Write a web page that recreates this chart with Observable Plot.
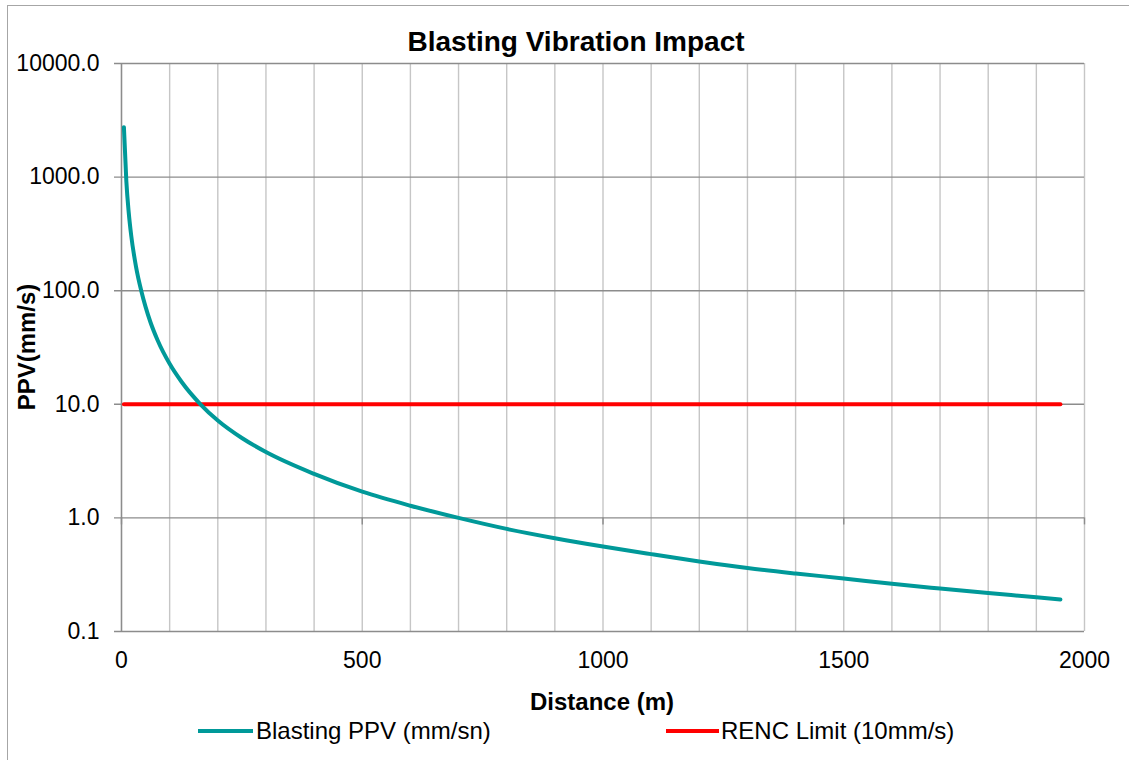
<!DOCTYPE html>
<html>
<head>
<meta charset="utf-8">
<script src="https://cdn.jsdelivr.net/npm/d3@7"></script>
<script src="https://cdn.jsdelivr.net/npm/@observablehq/plot@0.6"></script>
<style>
  html, body { margin: 0; padding: 0; background: #fff; overflow: hidden; }
  #wrap { position: relative; width: 1129px; height: 760px; font-family: "Liberation Sans", Arial, sans-serif; }
  #frame { position: absolute; left: 7px; top: 5px; width: 1200px; height: 800px; border: 1.5px solid #a6a6a6; box-sizing: border-box; }
  #chart { position: absolute; left: 0; top: 0; }
  .title { position: absolute; left: 576px; top: 28px; transform: translateX(-50%); font-weight: bold; font-size: 28px; line-height: 28px; white-space: nowrap; color: #000; }
  .xtitle { position: absolute; left: 602px; top: 690px; transform: translateX(-50%); font-weight: bold; font-size: 24px; line-height: 24px; white-space: nowrap; color: #000; }
  .ytitle { position: absolute; left: 27px; top: 347px; transform: translate(-50%, -50%) rotate(-90deg); font-weight: bold; font-size: 24px; line-height: 24px; white-space: nowrap; color: #000; }
  .leg { position: absolute; top: 719px; font-size: 24px; line-height: 24px; white-space: nowrap; color: #000; }
  .legline { position: absolute; height: 4px; top: 729px; }
</style>
</head>
<body>
<div id="wrap">
  <div id="frame"></div>
  <div id="chart"></div>
  <div class="title">Blasting Vibration Impact</div>
  <div class="xtitle">Distance (m)</div>
  <div class="ytitle">PPV(mm/s)</div>
  <div class="legline" style="left:198px;width:55px;background:#009999"></div>
  <div class="leg" style="left:256px">Blasting PPV (mm/sn)</div>
  <div class="legline" style="left:666px;width:53px;background:#ff0000"></div>
  <div class="leg" style="left:721px">RENC Limit (10mm/s)</div>
</div>
<script>
// Data
const distance = [5, 10, 15, 20, 30, 41, 50, 60, 75, 100, 125, 164, 200, 250, 300, 400, 500, 600, 700, 800, 900, 1000, 1100, 1200, 1300, 1400, 1500, 1600, 1700, 1800, 1900, 1950];
const ppv = [2750, 925, 488, 310, 164, 100, 72, 53, 36.6, 22.7, 15.7, 10, 7.2, 5.05, 3.8, 2.44, 1.70, 1.28, 1.0, 0.80, 0.663, 0.56, 0.48, 0.414, 0.362, 0.324, 0.293, 0.263, 0.239, 0.218, 0.200, 0.191];
const limitDistance = [5, 1950];
const limitValue = [10, 10];
const xTicks = [0, 500, 1000, 1500, 2000];
const xGrid = [0, 100, 200, 300, 400, 500, 600, 700, 800, 900, 1000, 1100, 1200, 1300, 1400, 1500, 1600, 1700, 1800, 1900, 2000];
const yTicks = [0.1, 1, 10, 100, 1000, 10000];

const ppvData = distance.map((d, i) => ({d, v: ppv[i]}));
const limitData = limitDistance.map((d, i) => ({d, v: limitValue[i]}));

const chart = Plot.plot({
  width: 1129,
  height: 700,
  marginLeft: 121,
  marginRight: 45,
  marginTop: 63,
  marginBottom: 69,
  style: {fontFamily: "'Liberation Sans', Arial, sans-serif", fontSize: "23px", color: "#000", background: "transparent", overflow: "visible"},
  x: {domain: [0, 2000]},
  y: {type: "log", domain: [0.1, 10000]},
  marks: [
    Plot.ruleX(xGrid, {stroke: "#c6c6c6", strokeWidth: 1.4}),
    Plot.ruleY(yTicks, {stroke: "#8c8c8c", strokeWidth: 1.4, insetLeft: -7}),
    Plot.ruleX([0], {stroke: "#8c8c8c", strokeWidth: 1.4}),
    Plot.ruleX(xTicks, {x: d => d, y1: 1, y2: 1, insetBottom: -7, stroke: "#8c8c8c", strokeWidth: 1.4}),
    Plot.axisY(yTicks, {tickSize: 0, tickPadding: 22, tickFormat: d => d.toFixed(1), label: null}),
    Plot.axisX(xTicks, {tickSize: 0, tickPadding: 20, tickFormat: d => String(d), label: null}),
    Plot.line(limitData, {x: "d", y: "v", stroke: "#ff0000", strokeWidth: 4}),
    Plot.line(ppvData, {x: "d", y: "v", stroke: "#009999", strokeWidth: 4, curve: "monotone-x"})
  ]
});
document.getElementById("chart").appendChild(chart);
</script>
</body>
</html>
